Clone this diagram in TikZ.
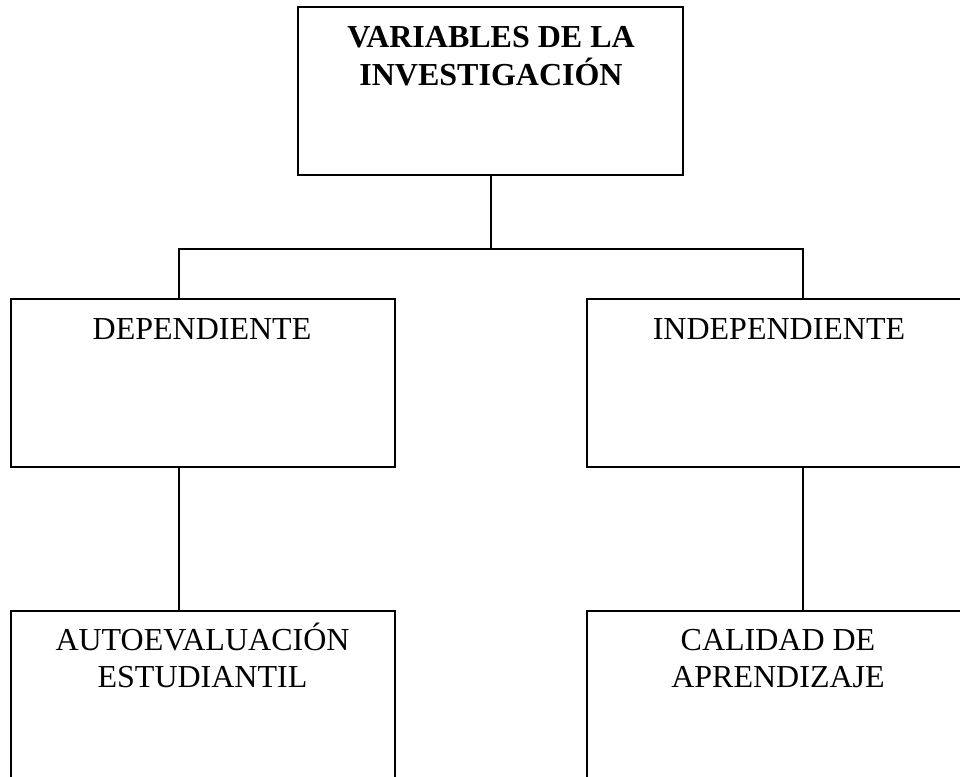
\documentclass[tikz,border=0pt]{standalone}
\usepackage{fontspec}
\setmainfont{Liberation Serif}
\tikzset{
  box/.style={draw, line width=1.5pt, rectangle, inner sep=0pt, outer sep=0pt,
              minimum width=288pt, minimum height=126pt},
  conn/.style={line width=1.5pt},
  titletext/.style={anchor=base, inner sep=0pt,
              font=\fontsize{24}{27}\selectfont\bfseries},
  labeltext/.style={anchor=base, inner sep=0pt,
              font=\fontsize{24}{27.75}\selectfont}
}
\begin{document}
\begin{tikzpicture}[x=0.75pt, y=-0.75pt]
  \useasboundingbox (0,0) rectangle (960,776);
  \clip (0,0) rectangle (960,776);
  % boxes
  \node[box, minimum width=288.75pt] (top) at (490.5,91) {};
  \node[box] (dep) at (203,383) {};
  \node[box] (ind) at (779,383) {};
  \node[box] (auto) at (203,695) {};
  \node[box] (cal) at (779,695) {};
  % texts
  \node[titletext] (ttop) at (491,47.3) {\begin{tabular}[t]{@{}c@{}}VARIABLES DE LA\\ INVESTIGACIÓN\end{tabular}};
  \node[labeltext] (tdep) at (202,339.3) {DEPENDIENTE};
  \node[labeltext] (tind) at (779,339.3) {INDEPENDIENTE};
  \node[labeltext] (tauto) at (202.5,650.7) {\begin{tabular}[t]{@{}c@{}}AUTOEVALUACIÓN\\ ESTUDIANTIL\end{tabular}};
  \node[labeltext] (tcal) at (778,650.7) {\begin{tabular}[t]{@{}c@{}}CALIDAD DE\\ APRENDIZAJE\end{tabular}};
  % connectors
  \coordinate (jl) at (179,249);
  \coordinate (jr) at (803,249);
  \draw[conn] (top.south) -- (top.south |- jl);
  \draw[conn] ([xshift=-0.75pt]jl) -- ([xshift=0.75pt]jr);
  \draw[conn] (jl) -- (jl |- dep.north);
  \draw[conn] (jr) -- (jr |- ind.north);
  \draw[conn] (jl |- dep.south) -- (jl |- auto.north);
  \draw[conn] (jr |- ind.south) -- (jr |- cal.north);
\end{tikzpicture}
\end{document}
